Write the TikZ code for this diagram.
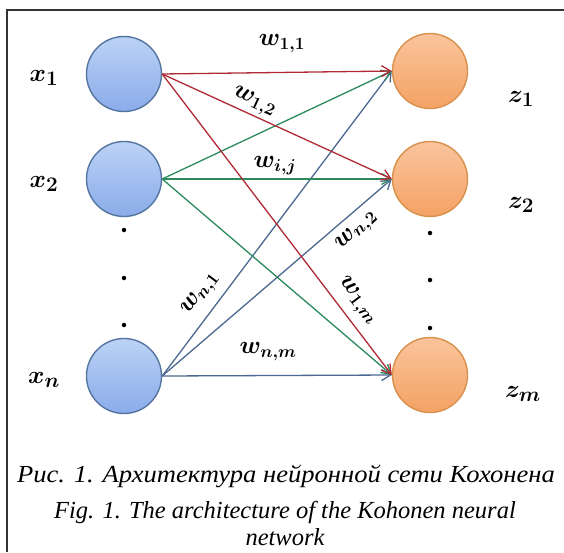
\documentclass[tikz,border=0pt]{standalone}
\usepackage{fontspec}
\newfontfamily\capfont{Liberation Serif}
\usetikzlibrary{arrows.meta}
\definecolor{framegray}{HTML}{333333}
\definecolor{inedge}{HTML}{56769F}
\definecolor{intop}{HTML}{BCD2F5}
\definecolor{inbot}{HTML}{8AACEA}
\definecolor{outedge}{HTML}{D8914C}
\definecolor{outtop}{HTML}{FAC49C}
\definecolor{outbot}{HTML}{F4A264}
\definecolor{wred}{HTML}{B02A35}
\definecolor{wgreen}{HTML}{2B8A5C}
\definecolor{wblue}{HTML}{4A6890}
\tikzset{
  inneuron/.style={circle, draw=inedge, line width=1.4pt, top color=intop, bottom color=inbot, minimum size=75pt, inner sep=0pt},
  outneuron/.style={circle, draw=outedge, line width=1.4pt, top color=outtop, bottom color=outbot, minimum size=75pt, inner sep=0pt},
  link/.style={line width=1.3pt, -{Straight Barb[length=9pt,width=11pt,line width=1.3pt]}},
  nlabel/.style={font=\fontsize{30}{34}\selectfont\boldmath, inner sep=0pt},
  wlabel/.style={font=\fontsize{27}{31}\selectfont\boldmath, inner sep=0pt},
  dotmark/.style={circle, fill=black, inner sep=0pt, minimum size=4.5pt},
  caption/.style={font=\capfont\itshape\fontsize{24.5}{28}\selectfont, inner sep=0pt}
}
\begin{document}
\begin{tikzpicture}[x=1pt, y=-1pt]
\useasboundingbox (0,0) rectangle (564,552);
% outer frame (top and left edges)
\draw[framegray, line width=2pt] (7,552) -- (7,10) -- (564,10);

% input layer
\node[inneuron] (x1) at (124,74) {};
\node[inneuron] (x2) at (124,179) {};
\node[inneuron] (xn) at (124,376) {};
% output layer
\node[outneuron] (z1) at (430,71) {};
\node[outneuron] (z2) at (430,179) {};
\node[outneuron] (zm) at (430,375) {};

% ellipsis dots
\node[dotmark] (dl1) at (124,230) {};
\node[dotmark] (dl2) at (124,278) {};
\node[dotmark] (dl3) at (124,325) {};
\node[dotmark] (dr1) at (430,233) {};
\node[dotmark] (dr2) at (430,280) {};
\node[dotmark] (dr3) at (430,328) {};

% neuron names
\node[nlabel] (tx1) at (44,78) {$x_1$};
\node[nlabel] (tx2) at (44,184) {$x_2$};
\node[nlabel] (txn) at (44,380) {$x_n$};
\node[nlabel] (tz1) at (521,99) {$z_1$};
\node[nlabel] (tz2) at (521,205) {$z_2$};
\node[nlabel] (tzm) at (523,394) {$z_m$};

% weighted connections
\draw[link, wblue] (xn.east) -- (z1.west);
\draw[link, wblue] (xn.east) -- (z2.west);
\draw[link, wblue] (xn.east) -- (zm.west);
\draw[link, wgreen] (x2.east) -- (z1.west);
\draw[link, wgreen] (x2.east) -- (z2.west);
\draw[link, wgreen] (x2.east) -- (zm.west);
\draw[link, wred] (x1.east) -- (z1.west);
\draw[link, wred] (x1.east) -- (z2.west);
\draw[link, wred] (x1.east) -- (zm.west);

% weight labels
\node[wlabel] (w11) at (282,44) {$w_{1,1}$};
\node[wlabel, rotate=-25] (w12) at (254,102) {$w_{1,2}$};
\node[wlabel] (wij) at (275,166) {$w_{i,j}$};
\node[wlabel, rotate=43] (wn2) at (357,231) {$w_{n,2}$};
\node[wlabel, rotate=53] (wn1) at (201,294) {$w_{n,1}$};
\node[wlabel, rotate=-53] (w1m) at (357,301) {$w_{1,m}$};
\node[wlabel] (wnm) at (268,352) {$w_{n,m}$};

% captions
\node[caption] (capru) at (286,476) {\scalebox{1.085}[1]{Рис. 1. Архитектура нейронной сети Кохонена}};
\node[caption] (capen) at (285,512) {Fig. 1. The architecture of the Kohonen neural};
\node[caption] (capen2) at (285,537) {network};
\end{tikzpicture}
\end{document}
